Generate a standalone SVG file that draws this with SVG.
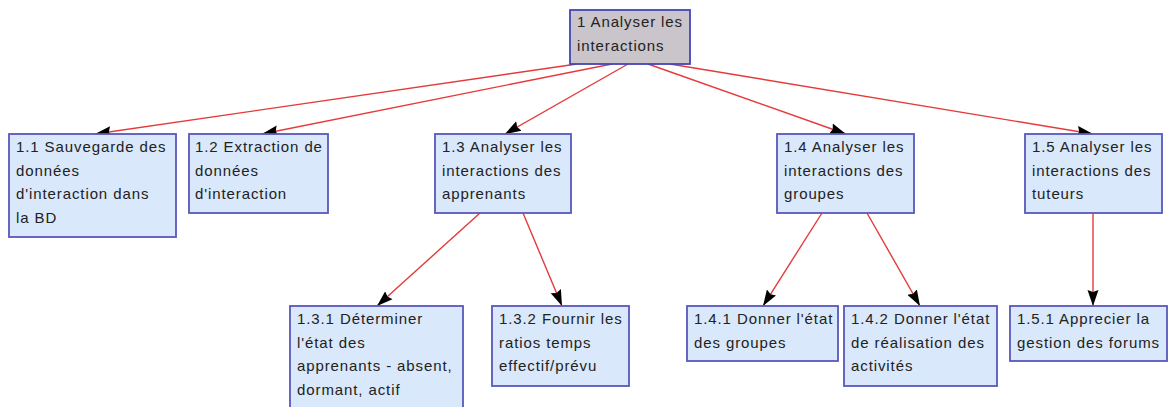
<svg xmlns="http://www.w3.org/2000/svg" width="1169" height="407" viewBox="0 0 1169 407">
<defs>
<style>
.box{fill:#d9e8fb;stroke:#5858bd;stroke-width:1.8}
.root{fill:#c9c5ca;stroke:#4444b6;stroke-width:1.8}
.lbl{font-family:"Liberation Sans",Arial,sans-serif;font-size:15px;fill:#222;letter-spacing:0.9px}
.edge{stroke:#e53a3a;stroke-width:1.4;fill:none;marker-end:url(#arr)}
</style>
<marker id="arr" markerUnits="userSpaceOnUse" markerWidth="17" markerHeight="12" refX="16" refY="5.5" orient="auto" viewBox="0 0 17 11">
<path d="M0,0 L16,5.5 L0,11 L2,5.5 z" fill="#000"/>
</marker>
</defs>
<rect width="1169" height="407" fill="#fff"/>
<g id="connectors">
<line class="edge" x1="577" y1="64" x2="95" y2="134"/>
<line class="edge" x1="612" y1="64" x2="262" y2="134"/>
<line class="edge" x1="628" y1="64" x2="505" y2="134"/>
<line class="edge" x1="648" y1="64" x2="846" y2="134"/>
<line class="edge" x1="670" y1="64" x2="1093" y2="134"/>
<line class="edge" x1="480" y1="213" x2="377" y2="306"/>
<line class="edge" x1="523" y1="213" x2="562" y2="306"/>
<line class="edge" x1="822" y1="213" x2="763" y2="306"/>
<line class="edge" x1="867" y1="213" x2="920" y2="306"/>
<line class="edge" x1="1093" y1="213" x2="1093" y2="306"/>
</g>
<g id="n1">
<rect class="root" x="570" y="10" width="120" height="54"/>
<text class="lbl" x="577" y="27">1 Analyser les</text>
<text class="lbl" x="577" y="51">interactions</text>
</g>
<g id="n1_1">
<rect class="box" x="9" y="134" width="167" height="103"/>
<text class="lbl" x="16" y="152">1.1 Sauvegarde des</text>
<text class="lbl" x="16" y="175.5">données</text>
<text class="lbl" x="16" y="199">d'interaction dans</text>
<text class="lbl" x="16" y="222.5">la BD</text>
</g>
<g id="n1_2">
<rect class="box" x="189" y="134" width="139" height="79"/>
<text class="lbl" x="195" y="152">1.2 Extraction de</text>
<text class="lbl" x="195" y="175.5">données</text>
<text class="lbl" x="195" y="199">d'interaction</text>
</g>
<g id="n1_3">
<rect class="box" x="435" y="134" width="136" height="79"/>
<text class="lbl" x="442" y="152">1.3 Analyser les</text>
<text class="lbl" x="442" y="175.5">interactions des</text>
<text class="lbl" x="442" y="199">apprenants</text>
</g>
<g id="n1_4">
<rect class="box" x="777" y="134" width="137" height="79"/>
<text class="lbl" x="784" y="152">1.4 Analyser les</text>
<text class="lbl" x="784" y="175.5">interactions des</text>
<text class="lbl" x="784" y="199">groupes</text>
</g>
<g id="n1_5">
<rect class="box" x="1025" y="134" width="137" height="79"/>
<text class="lbl" x="1032" y="152">1.5 Analyser les</text>
<text class="lbl" x="1032" y="175.5">interactions des</text>
<text class="lbl" x="1032" y="199">tuteurs</text>
</g>
<g id="n1_3_1">
<rect class="box" x="290" y="306" width="173" height="103"/>
<text class="lbl" x="297" y="324">1.3.1 Déterminer</text>
<text class="lbl" x="297" y="347.5">l'état des</text>
<text class="lbl" x="297" y="371">apprenants - absent,</text>
<text class="lbl" x="297" y="394.5">dormant, actif</text>
</g>
<g id="n1_3_2">
<rect class="box" x="492" y="306" width="137" height="80"/>
<text class="lbl" x="499" y="324">1.3.2 Fournir les</text>
<text class="lbl" x="499" y="347.5">ratios temps</text>
<text class="lbl" x="499" y="371">effectif/prévu</text>
</g>
<g id="n1_4_1">
<rect class="box" x="687" y="306" width="151" height="55"/>
<text class="lbl" x="694" y="324">1.4.1 Donner l'état</text>
<text class="lbl" x="694" y="347.5">des groupes</text>
</g>
<g id="n1_4_2">
<rect class="box" x="844" y="306" width="153" height="80"/>
<text class="lbl" x="851" y="324">1.4.2 Donner l'état</text>
<text class="lbl" x="851" y="347.5">de réalisation des</text>
<text class="lbl" x="851" y="371">activités</text>
</g>
<g id="n1_5_1">
<rect class="box" x="1010" y="306" width="157" height="55"/>
<text class="lbl" x="1017" y="324">1.5.1 Apprecier la</text>
<text class="lbl" x="1017" y="347.5">gestion des forums</text>
</g>
</svg>
